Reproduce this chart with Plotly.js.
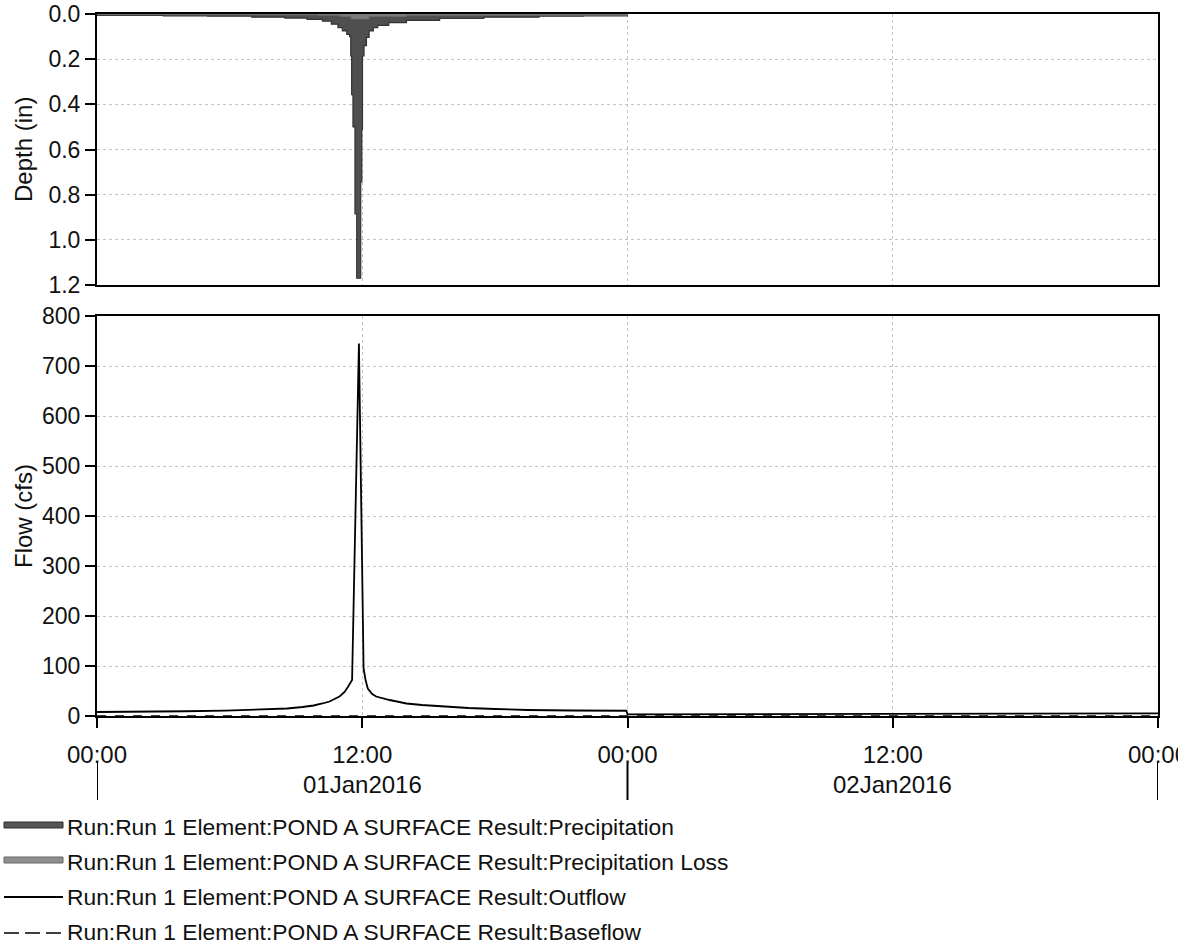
<!DOCTYPE html>
<html>
<head>
<meta charset="utf-8">
<script src="https://cdn.plot.ly/plotly-3.0.1.min.js"></script>
<style>
html,body{margin:0;padding:0;background:#fff;overflow:hidden;}
#chart{width:1178px;height:952px;}
</style>
</head>
<body>
<div id="chart"></div>
<script>
// ---- Data (hours from 01Jan2016 00:00) ----
const precipTime = [0, 3, 5, 7, 8.5, 9.5, 10.2, 10.6, 10.9, 11.1, 11.3, 11.43, 11.48, 11.52, 11.58, 11.67, 11.75, 11.93, 11.98, 12.01, 12.08, 12.19, 12.31, 12.5, 12.7, 13.2, 14, 15.5, 17.5, 20, 22, 24];
const precipDepth = [0.006, 0.008, 0.010, 0.014, 0.018, 0.024, 0.032, 0.045, 0.060, 0.075, 0.090, 0.100, 0.186, 0.357, 0.500, 0.885, 1.170, 0.744, 0.510, 0.186, 0.140, 0.104, 0.075, 0.060, 0.050, 0.038, 0.028, 0.020, 0.014, 0.010, 0.008, 0];

const lossTime = [0, 10, 11, 11.5, 12.3, 14, 24];
const lossDepth = [0.003, 0.005, 0.010, 0.022, 0.010, 0.005, 0];

const flowTime = [0, 1, 2.5, 4, 5.8, 7.5, 8.6, 9.3, 9.8, 10.2, 10.52, 10.97, 11.2, 11.35, 11.54, 11.85, 12.06, 12.15, 12.25, 12.45, 12.63, 13.24, 14, 14.7, 16, 16.8, 18, 19.5, 21.5, 23.95, 24.0, 30, 36, 42, 48];
const flowCfs = [8, 8, 8.7, 9.5, 10.7, 12.5, 15, 18, 21, 25, 29, 39, 48, 58, 72, 745, 95, 72, 55, 44, 39, 32, 25, 22, 18, 16, 14, 12, 11, 10.5, 3.3, 3.8, 4.3, 4.8, 5.3];

const baseTime = [0, 48];
const baseCfs = [0, 0];

const tickHours = [0, 12, 24, 36, 48];
const tickLabels = ['00:00', '12:00', '00:00', '12:00', '00:00'];
const dateLabels = ['01Jan2016', '02Jan2016'];
const dateCenters = [12, 36];
const daySeparators = [0, 24, 48];

const legendNames = [
  'Run:Run 1 Element:POND A SURFACE Result:Precipitation',
  'Run:Run 1 Element:POND A SURFACE Result:Precipitation Loss',
  'Run:Run 1 Element:POND A SURFACE Result:Outflow',
  'Run:Run 1 Element:POND A SURFACE Result:Baseflow'
];

// ---- Layout helpers ----
const W = 1178, H = 952;
const L = 97, R = 20, T = 14, B = 236;
const plotW = W - L - R, plotH = H - T - B;
const px = x => (x - L) / plotW;         // pixel x -> paper
const py = y => (H - B - y) / plotH;     // pixel y -> paper

const FONT = '"Liberation Sans", Arial, sans-serif';
const gridColor = '#c4c4c4';

const traces = [
  {x: precipTime, y: precipDepth, xaxis: 'x', yaxis: 'y', type: 'scatter', mode: 'lines',
   line: {shape: 'hv', color: '#333333', width: 1.2}, fill: 'tozeroy', fillcolor: '#4f4f4f',
   name: legendNames[0], showlegend: false},
  {x: lossTime, y: lossDepth, xaxis: 'x', yaxis: 'y', type: 'scatter', mode: 'lines',
   line: {shape: 'hv', color: '#6e6e6e', width: 1}, fill: 'tozeroy', fillcolor: '#7c7c7c',
   name: legendNames[1], showlegend: false},
  {x: baseTime, y: baseCfs, xaxis: 'x2', yaxis: 'y2', type: 'scatter', mode: 'lines',
   line: {color: '#000', width: 1.5, dash: 'dash'}, name: legendNames[3], showlegend: false},
  {x: flowTime, y: flowCfs, xaxis: 'x2', yaxis: 'y2', type: 'scatter', mode: 'lines',
   line: {color: '#000', width: 1.8}, name: legendNames[2], showlegend: false}
];

const axisCommon = {
  showline: true, linecolor: '#000', linewidth: 2, mirror: true,
  showgrid: true, gridcolor: gridColor, gridwidth: 1, griddash: 'dot',
  zeroline: false, tickfont: {family: FONT, size: 23, color: '#111'}
};

const shapes = [];
const annotations = [];

// Date row separators and labels
daySeparators.forEach(h => {
  shapes.push({type: 'line', xref: 'x2', yref: 'paper', x0: h, x1: h, y0: py(763), y1: py(800),
               line: {color: '#000', width: 2}});
});
dateLabels.forEach((t, i) => {
  annotations.push({xref: 'x2', yref: 'paper', x: dateCenters[i], y: py(784), text: t, showarrow: false,
                    xanchor: 'center', yanchor: 'middle', font: {family: FONT, size: 24, color: '#111'}});
});

// Axis titles
annotations.push({xref: 'paper', yref: 'paper', x: px(23), y: py(150), text: 'Depth (in)', textangle: -90,
                  showarrow: false, xanchor: 'center', yanchor: 'middle', font: {family: FONT, size: 24, color: '#111'}});
annotations.push({xref: 'paper', yref: 'paper', x: px(23), y: py(516), text: 'Flow (cfs)', textangle: -90,
                  showarrow: false, xanchor: 'center', yanchor: 'middle', font: {family: FONT, size: 24, color: '#111'}});

// Custom legend
const rowY = [827, 862, 897, 932];
shapes.push({type: 'rect', xref: 'paper', yref: 'paper', x0: px(4), x1: px(63), y0: py(828), y1: py(822),
             fillcolor: '#555555', line: {color: '#2e2e2e', width: 1}});
shapes.push({type: 'rect', xref: 'paper', yref: 'paper', x0: px(4), x1: px(63), y0: py(863), y1: py(857),
             fillcolor: '#8f8f8f', line: {color: '#666', width: 1}});
shapes.push({type: 'line', xref: 'paper', yref: 'paper', x0: px(4), x1: px(63), y0: py(897), y1: py(897),
             line: {color: '#000', width: 1.8}});
shapes.push({type: 'line', xref: 'paper', yref: 'paper', x0: px(4), x1: px(63), y0: py(933), y1: py(933),
             line: {color: '#000', width: 1.6, dash: '15px,6px'}});
legendNames.forEach((t, i) => {
  annotations.push({xref: 'paper', yref: 'paper', x: px(65), y: py(rowY[i]), text: t, showarrow: false,
                    xanchor: 'left', yanchor: 'middle', font: {family: FONT, size: 22.8, color: '#111'}});
});

const layout = {
  width: W, height: H,
  margin: {l: L, r: R, t: T, b: B, pad: 0},
  paper_bgcolor: '#fff', plot_bgcolor: '#fff',
  showlegend: false,
  font: {family: FONT, color: '#111'},
  xaxis: Object.assign({}, axisCommon, {
    anchor: 'y', domain: [0, 1], range: [0, 48], tickvals: tickHours, showticklabels: false, ticks: ''
  }),
  yaxis: Object.assign({}, axisCommon, {
    anchor: 'x', domain: [py(285), 1], range: [1.2, 0], dtick: 0.2, tickformat: '.1f',
    ticks: 'outside', ticklen: 10, tickwidth: 2, tickcolor: '#000'
  }),
  xaxis2: Object.assign({}, axisCommon, {
    anchor: 'y2', domain: [0, 1], range: [0, 48], tickvals: tickHours, ticktext: tickLabels,
    ticks: 'outside', ticklen: 10, tickwidth: 2, tickcolor: '#000', ticklabelstandoff: 6,
    ticklabeloverflow: 'allow', tickfont: {family: FONT, size: 24, color: '#111'}
  }),
  yaxis2: Object.assign({}, axisCommon, {
    anchor: 'x2', domain: [0, py(316)], range: [0, 800], dtick: 100,
    ticks: 'outside', ticklen: 10, tickwidth: 2, tickcolor: '#000'
  }),
  shapes: shapes,
  annotations: annotations
};

Plotly.newPlot('chart', traces, layout, {displayModeBar: false, staticPlot: true});
</script>
</body>
</html>
